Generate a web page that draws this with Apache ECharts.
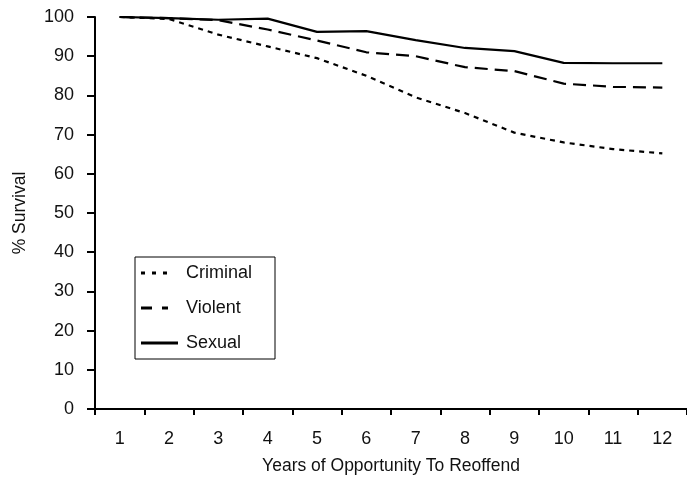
<!DOCTYPE html>
<html>
<head>
<meta charset="utf-8">
<script src="https://cdn.jsdelivr.net/npm/echarts@6/dist/echarts.min.js"></script>
<style>
html,body{margin:0;padding:0;background:#fff;}
#chart{width:687px;height:488px;}
</style>
</head>
<body>
<div id="chart"></div>
<script>
const years = ['1','2','3','4','5','6','7','8','9','10','11','12'];
const criminal = [100, 99.5, 95.5, 92.5, 89.5, 85, 79.5, 75.5, 70.5, 68, 66.3, 65.2];
const violent  = [100, 99.7, 99.2, 96.8, 94, 91, 90, 87.2, 86.2, 83, 82.2, 82];
const sexual   = [100, 99.7, 99.3, 99.6, 96.2, 96.4, 94.1, 92.1, 91.3, 88.3, 88.2, 88.2];
const yTicks = { min: 0, max: 100, step: 10 };

const chart = echarts.init(document.getElementById('chart'), null, {renderer: 'canvas'});
const font = 'Liberation Sans, Arial, sans-serif';
const textColor = '#111';
function mk(name, data, type) {
  return {
    name: name, type: 'line', data: data, symbol: 'none',
    lineStyle: { color: '#000', width: 2.2, type: type },
    itemStyle: { color: '#000', borderWidth: 0 },
    animation: false
  };
}
const icons = {
  Criminal: 'path://M0,0h4v3h-4z M11,0h4v3h-4z M22,0h4v3h-4z M37,0v3',
  Violent: 'path://M0,0h11v3h-11z M21,0h6v3h-6z M37,0v3',
  Sexual: 'path://M0,0h37v3h-37z'
};
chart.setOption({
  animation: false,
  backgroundColor: '#fff',
  grid: { left: 95, top: 17, width: 596, height: 392 },
  legend: {
    orient: 'vertical', left: 135, top: 257,
    backgroundColor: '#fff', borderColor: '#000', borderWidth: 1,
    padding: [7, 23, 7, 6],
    itemWidth: 37, itemHeight: 3, itemGap: 17,
    itemStyle: { borderWidth: 0, color: '#000' },
    textStyle: { fontFamily: font, fontSize: 18, color: textColor, padding: [0, 0, 0, 3] },
    data: ['Criminal', 'Violent', 'Sexual'].map(n => ({ name: n, icon: icons[n] }))
  },
  xAxis: {
    type: 'category', data: years, boundaryGap: true,
    name: 'Years of Opportunity To Reoffend', nameLocation: 'middle', nameGap: 48,
    nameMoveOverlap: false,
    nameTextStyle: { fontFamily: font, fontSize: 17.5, color: textColor },
    axisLine: { lineStyle: { color: '#000', width: 2 } },
    axisTick: { show: true, length: 6, inside: false, lineStyle: { color: '#000', width: 2 } },
    axisLabel: { fontFamily: font, fontSize: 18, color: textColor, margin: 21 },
    splitLine: { show: false }
  },
  yAxis: {
    type: 'value', min: yTicks.min, max: yTicks.max, interval: yTicks.step,
    name: '% Survival', nameLocation: 'middle', nameGap: 66,
    nameMoveOverlap: false,
    nameTextStyle: { fontFamily: font, fontSize: 17.5, color: textColor },
    axisLine: { show: true, lineStyle: { color: '#000', width: 2 } },
    axisTick: { show: true, length: 8, lineStyle: { color: '#000', width: 2 } },
    axisLabel: { fontFamily: font, fontSize: 18, color: textColor, margin: 21 },
    splitLine: { show: false }
  },
  series: [
    mk('Criminal', criminal, [5, 5]),
    mk('Violent', violent, [13, 7]),
    mk('Sexual', sexual, 'solid')
  ]
});
</script>
</body>
</html>
